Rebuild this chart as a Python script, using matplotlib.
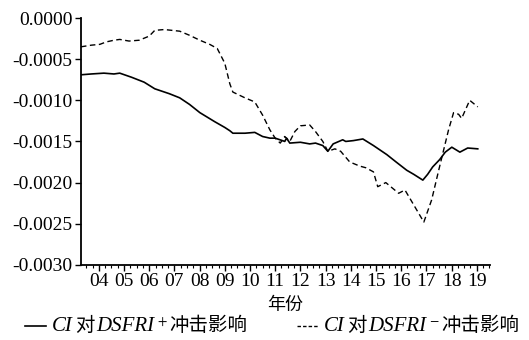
import matplotlib
matplotlib.use("Agg")
import matplotlib.pyplot as plt
from matplotlib.lines import Line2D
from matplotlib.ticker import MultipleLocator, FixedLocator
from matplotlib.offsetbox import AnchoredOffsetbox, DrawingArea, HPacker, TextArea

plt.rcParams["font.family"] = ["Liberation Serif", "Noto Sans CJK SC"]
plt.rcParams["mathtext.fontset"] = "stix"

# time axis in decimal years
pos_years = [2003.29, 2003.7, 2004.2, 2004.6, 2004.83, 2005.3, 2005.8, 2006.22,
             2006.8, 2007.21, 2007.6, 2008.01, 2008.6, 2009.0, 2009.2, 2009.32,
             2009.8, 2010.19, 2010.5, 2010.79, 2011.0, 2011.38, 2011.45, 2011.58,
             2012.0, 2012.37, 2012.6, 2012.89, 2013.09, 2013.3, 2013.68, 2013.8,
             2014.1, 2014.48, 2014.9, 2015.43, 2015.8, 2016.22, 2016.5, 2016.86,
             2017.05, 2017.25, 2017.53, 2017.75, 2018.01, 2018.33, 2018.64, 2019.04]
pos_values = [-0.00069, -0.00068, -0.00067, -0.00068, -0.00067, -0.00072, -0.00078, -0.00086,
              -0.00092, -0.00097, -0.00105, -0.00115, -0.00126, -0.00133, -0.00137, -0.00140,
              -0.00140, -0.00139, -0.00144, -0.00146, -0.00146, -0.00150, -0.00146, -0.00152,
              -0.00151, -0.00153, -0.00152, -0.00155, -0.00162, -0.00153, -0.00148, -0.00150,
              -0.00149, -0.00147, -0.00155, -0.00166, -0.00175, -0.00185, -0.00190, -0.00197,
              -0.00190, -0.00181, -0.00172, -0.00163, -0.00157, -0.00163, -0.00158, -0.00159]

neg_years = [2003.29, 2003.7, 2004.04, 2004.3, 2004.6, 2004.83, 2005.2, 2005.6,
             2006.0, 2006.22, 2006.6, 2007.21, 2007.6, 2008.01, 2008.4, 2008.7,
             2009.0, 2009.2, 2009.32, 2009.8, 2010.19, 2010.5, 2010.79, 2011.0,
             2011.2, 2011.38, 2011.58, 2011.78, 2012.0, 2012.37, 2012.6, 2012.89,
             2013.09, 2013.37, 2013.6, 2013.96, 2014.36, 2014.6, 2014.9, 2015.07,
             2015.39, 2015.9, 2016.15, 2016.9, 2017.21, 2017.49, 2017.88, 2018.08,
             2018.28, 2018.4, 2018.72, 2019.04]
neg_values = [-0.00035, -0.00033, -0.00032, -0.00029, -0.00027, -0.00026, -0.00028, -0.00027,
              -0.00022, -0.00015, -0.00014, -0.00016, -0.00021, -0.00027, -0.00032, -0.00037,
              -0.00055, -0.00080, -0.00090, -0.00097, -0.00102, -0.00118, -0.00136, -0.00146,
              -0.00152, -0.00144, -0.00150, -0.00138, -0.00131, -0.00130, -0.00138, -0.00150,
              -0.00162, -0.00159, -0.00162, -0.00175, -0.00180, -0.00182, -0.00187, -0.00205,
              -0.00200, -0.00213, -0.00209, -0.00248, -0.00221, -0.00185, -0.00136, -0.00115,
              -0.00117, -0.00122, -0.00100, -0.00108]

year_ticks = list(range(2004, 2020))
year_labels = [f"{y % 100:02d}" for y in year_ticks]
y_ticks = [0.0, -0.0005, -0.0010, -0.0015, -0.0020, -0.0025, -0.0030]

DASHED = (0, (4, 2.5))

fig = plt.figure(figsize=(5.29, 3.4), dpi=100)
ax = fig.add_axes([0.153, 0.221, 0.773, 0.726])

ax.plot(pos_years, pos_values, color="black", lw=1.2)
ax.plot(neg_years, neg_values, color="black", lw=1.0, linestyle=DASHED)

ax.set_xlim(2003.29, 2019.52)
ax.set_ylim(-0.0030, 0.0)
ax.xaxis.set_major_locator(FixedLocator(year_ticks))
ax.set_xticklabels(year_labels)
ax.xaxis.set_minor_locator(MultipleLocator(0.25))
ax.set_yticks(y_ticks)
ax.set_yticklabels([f"{v:.4f}" for v in y_ticks])

for side in ["top", "right"]:
    ax.spines[side].set_visible(False)
for side in ["left", "bottom"]:
    ax.spines[side].set_linewidth(1.3)

ax.tick_params(axis="both", which="major", labelsize=14, direction="out", width=1.0, length=4, pad=2)
ax.tick_params(axis="x", which="minor", direction="out", width=0.8, length=2)
ax.set_xlabel("年份", fontsize=13, labelpad=4, family="Noto Sans CJK SC")


# legend entries: italic latin, chinese text and a superscript sign side by side
def legend_entry(x, sign, ls, lw):
    line_box = DrawingArea(18, 10, 0, 0)
    line_box.add_artist(Line2D([0, 15], [4, 4], color="black", lw=lw, linestyle=ls))
    ital = dict(family="Liberation Serif", style="italic", size=15)
    cjk = dict(family="Noto Sans CJK SC", size=14)
    parts = [
        line_box,
        TextArea("CI", textprops=ital),
        TextArea("对", textprops=cjk),
        TextArea("DSFRI", textprops=ital),
        TextArea(f"$^{{{sign}}}$", textprops=dict(size=14)),
        TextArea("冲击影响", textprops=cjk),
    ]
    pack = HPacker(children=parts, align="baseline", pad=0, sep=1.5)
    box = AnchoredOffsetbox(loc="center left", child=pack, frameon=False, pad=0,
                            borderpad=0, bbox_to_anchor=(x, 0.042),
                            bbox_transform=fig.transFigure)
    fig.add_artist(box)


legend_entry(0.047, "+", "-", 1.2)
legend_entry(0.561, "-", (0, (2.5, 1.5)), 1.0)

fig.savefig("out.png", dpi=100)
